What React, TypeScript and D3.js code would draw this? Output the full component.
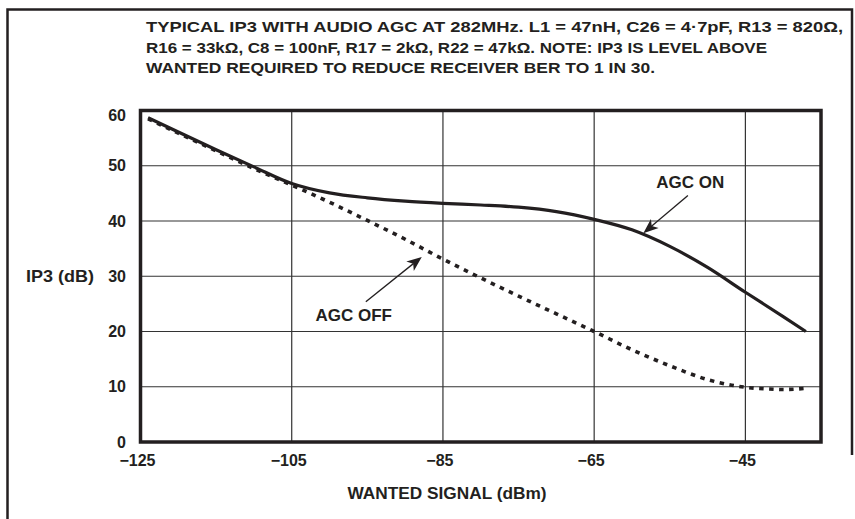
import React from "react";
import * as d3 from "d3";

const W = 855;
const H = 519;

const titleLines = [
  "TYPICAL IP3 WITH AUDIO AGC AT 282MHz. L1 = 47nH, C26 = 4·7pF, R13 = 820Ω,",
  "R16 = 33kΩ, C8 = 100nF, R17 = 2kΩ, R22 = 47kΩ. NOTE: IP3 IS LEVEL ABOVE",
  "WANTED REQUIRED TO REDUCE RECEIVER BER TO 1 IN 30.",
];
const titleLineWidths = [697, 621, 509];

const xTicks = [-125, -105, -85, -65, -45];
const yTicks = [0, 10, 20, 30, 40, 50, 60];
const xLabel = "WANTED SIGNAL (dBm)";
const yLabel = "IP3 (dB)";

const agcOnX = [-124, -120, -115, -110, -105, -100, -95, -90, -85, -80, -75, -70, -65, -60, -55, -50, -45, -40, -37];
const agcOnY = [58.7, 56.1, 52.9, 49.8, 46.8, 45.1, 44.2, 43.6, 43.2, 42.9, 42.5, 41.7, 40.3, 38.4, 35.4, 31.6, 27.1, 22.7, 20];

const agcOffX = [-124, -120, -115, -110, -105, -100, -95, -90, -85, -80, -75, -70, -65, -60, -55, -50, -45, -42, -40, -37];
const agcOffY = [58.5, 55.9, 52.7, 49.5, 46.5, 43.4, 40.1, 36.7, 33.1, 29.7, 26.4, 23.2, 20, 16.7, 13.8, 11.3, 9.9, 9.6, 9.5, 9.7];

// annotations in data units
const annoLabels = ["AGC ON", "AGC OFF"];
const annoLabelX = [-52.3, -96.8];
const annoLabelY = [47.0, 22.9];
const annoFromX = [-52.6, -95.2];
const annoFromY = [44.6, 25.4];
const annoToX = [-58.5, -87.8];
const annoToY = [37.8, 33.5];

const INK = "#231f20";
const FONT = "'Liberation Sans', Arial, Helvetica, sans-serif";

export default function App() {
  const x = d3.scaleLinear().domain([-125, -35]).range([140.5, 821]);
  const y = d3.scaleLinear().domain([0, 60]).range([442, 110.5]);

  const line = d3
    .line<[number, number]>()
    .x((d) => x(d[0]))
    .y((d) => y(d[1]))
    .curve(d3.curveMonotoneX);

  const onPts = agcOnX.map((v, i) => [v, agcOnY[i]] as [number, number]);
  const offPts = agcOffX.map((v, i) => [v, agcOffY[i]] as [number, number]);

  const arrowHead = (x1: number, y1: number, x2: number, y2: number) => {
    const ang = Math.atan2(y2 - y1, x2 - x1);
    const len = 15;
    const hw = 6;
    const bx = x2 - len * Math.cos(ang);
    const by = y2 - len * Math.sin(ang);
    const nx = -Math.sin(ang);
    const ny = Math.cos(ang);
    const nb = 4;
    const ix = x2 - (len - nb) * Math.cos(ang);
    const iy = y2 - (len - nb) * Math.sin(ang);
    return `M${x2},${y2} L${bx + nx * hw},${by + ny * hw} L${ix},${iy} L${bx - nx * hw},${by - ny * hw} Z`;
  };

  return (
    <svg
      width={W}
      height={H}
      style={{ position: "absolute", left: 0, top: 0, background: "#fff" }}
      fontFamily={FONT}
    >
      <rect x={0} y={0} width={W} height={H} fill="#fff" />
      {/* outer frame */}
      <path d={`M7.5,${H} L7.5,9.5 L852,9.5 L852,455`} fill="none" stroke={INK} strokeWidth={2.5} />

      {/* title */}
      {titleLines.map((t, i) => (
        <text
          key={i}
          x={146}
          y={32 + i * 20.7}
          fontSize={15.5}
          fontWeight="bold"
          fill={INK}
          textLength={titleLineWidths[i]}
          lengthAdjust="spacingAndGlyphs"
        >
          {t}
        </text>
      ))}

      {/* grid */}
      {xTicks.slice(1).map((t) => (
        <line key={"gx" + t} x1={x(t)} x2={x(t)} y1={y(60)} y2={y(0)} stroke="#333" strokeWidth={1.2} />
      ))}
      {yTicks.slice(1, -1).map((t) => (
        <line key={"gy" + t} x1={x(-125)} x2={x(-35)} y1={y(t)} y2={y(t)} stroke="#333" strokeWidth={1.2} />
      ))}

      {/* curves */}
      <path d={line(offPts) || ""} fill="none" stroke={INK} strokeWidth={3.6} strokeDasharray="4.5,5.5" />
      <path d={line(onPts) || ""} fill="none" stroke={INK} strokeWidth={3.2} />

      {/* plot border */}
      <rect
        x={x(-125)}
        y={y(60)}
        width={x(-35) - x(-125)}
        height={y(0) - y(60)}
        fill="none"
        stroke={INK}
        strokeWidth={3.5}
      />

      {/* y tick labels */}
      {yTicks.map((t) => (
        <text
          key={"yl" + t}
          x={126}
          y={Math.max(y(t), y(60) + 4.5) + 5.5}
          textAnchor="end"
          fontSize={16}
          fontWeight="bold"
          fill={INK}
        >
          {t}
        </text>
      ))}
      {/* x tick labels */}
      {xTicks.map((t) => (
        <text key={"xl" + t} x={x(t) - 3} y={466} textAnchor="middle" fontSize={16} fontWeight="bold" fill={INK}>
          {t < 0 ? "\u2212" + Math.abs(t) : t}
        </text>
      ))}

      {/* axis labels */}
      <text x={60} y={y(30) + 5.5} textAnchor="middle" fontSize={16.5} fontWeight="bold" fill={INK} textLength={68} lengthAdjust="spacingAndGlyphs">
        {yLabel}
      </text>
      <text x={447} y={499} textAnchor="middle" fontSize={17} fontWeight="bold" fill={INK} textLength={199} lengthAdjust="spacingAndGlyphs">
        {xLabel}
      </text>

      {/* annotations */}
      {annoLabels.map((lab, i) => {
        const x1 = x(annoFromX[i]);
        const y1 = y(annoFromY[i]);
        const x2 = x(annoToX[i]);
        const y2 = y(annoToY[i]);
        return (
          <g key={lab}>
            <text
              x={x(annoLabelX[i])}
              y={y(annoLabelY[i]) + 6}
              textAnchor="middle"
              fontSize={17}
              fontWeight="bold"
              fill={INK}
            >
              {lab}
            </text>
            <line x1={x1} y1={y1} x2={x2 + (x1 - x2) * 0.15} y2={y2 + (y1 - y2) * 0.15} stroke={INK} strokeWidth={1.3} />
            <path d={arrowHead(x1, y1, x2, y2)} fill={INK} />
          </g>
        );
      })}
    </svg>
  );
}
